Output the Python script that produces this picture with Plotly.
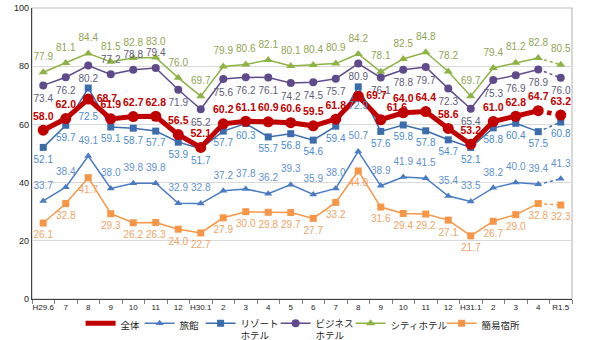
import plotly.graph_objects as go

months = ["H29.6", "7", "8", "9", "10", "11", "12", "H30.1", "2", "3", "4", "5",
          "6", "7", "8", "9", "10", "11", "12", "H31.1", "2", "3", "4", "R1.5"]

zentai = [58.0, 62.0, 68.7, 61.9, 62.7, 62.8, 56.5, 52.1, 60.2, 61.1, 60.9, 60.6,
          59.5, 61.8, 69.7, 61.6, 64.0, 64.4, 58.6, 53.2, 61.0, 62.8, 64.7, 63.2]
ryokan = [33.7, 38.4, 49.1, 38.0, 39.8, 39.8, 32.9, 32.8, 37.2, 37.8, 36.2, 39.3,
          35.9, 38.0, 50.7, 38.9, 41.9, 41.5, 35.4, 33.5, 38.2, 40.0, 39.4, 41.3]
resort = [52.1, 59.7, 72.5, 59.1, 58.7, 57.7, 53.9, 51.7, 57.7, 60.3, 55.7, 56.8,
          54.6, 59.4, 72.9, 57.6, 59.8, 57.8, 54.7, 52.1, 58.8, 60.4, 57.5, 60.8]
business = [73.4, 76.2, 80.2, 77.2, 78.8, 79.4, 71.9, 65.2, 75.6, 76.2, 76.1, 74.2,
            74.5, 75.7, 80.9, 76.1, 78.8, 79.7, 72.3, 65.4, 75.3, 76.9, 78.9, 76.0]
city = [77.9, 81.1, 84.4, 81.5, 82.8, 83.0, 76.0, 69.7, 79.9, 80.6, 82.1, 80.1,
        80.4, 80.9, 84.2, 78.1, 82.5, 84.8, 78.2, 69.7, 79.4, 81.2, 82.8, 80.5]
kani = [26.1, 32.8, 41.7, 29.3, 26.2, 26.3, 24.0, 22.7, 27.9, 30.0, 29.8, 29.7,
        27.7, 33.2, 44.0, 31.6, 29.4, 29.2, 27.1, 21.7, 26.7, 29.0, 32.8, 32.3]

x = list(range(len(months)))
n = len(x)
FONT = "Liberation Sans, Arial, Noto Sans CJK JP, sans-serif"

fig = go.Figure()


def add_series(name, vals, color, width, symbol, msize, tpos, tcolor, toff,
               lw, tsize=10, bold=False, rank=1, legend_line_only=False):
    grp = name
    fig.add_trace(go.Scatter(
        x=x[:-1], y=vals[:-1], mode="lines+markers", name=name,
        line=dict(color=color, width=width),
        marker=dict(symbol=symbol, size=msize, color=color),
        legendgroup=grp, legendrank=rank, legendwidth=lw,
        showlegend=not legend_line_only, hoverinfo="skip"))
    fig.add_trace(go.Scatter(
        x=x[-2:], y=vals[-2:], mode="lines",
        line=dict(color=color, width=max(width - 0.5, 1.5), dash="dot"),
        legendgroup=grp, showlegend=False, hoverinfo="skip"))
    fig.add_trace(go.Scatter(
        x=x[-1:], y=vals[-1:], mode="markers",
        marker=dict(symbol=symbol, size=msize, color=color),
        legendgroup=grp, showlegend=False, hoverinfo="skip"))
    if legend_line_only:
        fig.add_trace(go.Scatter(
            x=[None], y=[None], mode="lines", name=name,
            line=dict(color=color, width=width),
            legendgroup=grp, legendrank=rank, legendwidth=lw, showlegend=True))
    txt = [f"<b>{v:.1f}</b>" if bold else f"{v:.1f}" for v in vals]
    return dict(y=vals, text=txt, tpos=tpos, tcolor=tcolor, tsize=tsize, toff=toff)


labels = []
labels.append(add_series("シティホテル", city, "#8DB345", 1.5, "triangle-up", 8,
                         ["top center"] * n, "#8FA552", [14] * n, 46, rank=5))
bpos = ["bottom center"] * n
for i in (3, 4, 5):
    bpos[i] = "top center"
labels.append(add_series("ビジネス<br>ホテル", business, "#5F4B8B", 1.5, "circle", 8,
                         bpos, "#5E5C78", [13] * n, 30, rank=4))
labels.append(add_series("簡易宿所", kani, "#F79646", 1.5, "square", 7,
                         ["bottom center"] * n, "#F2A366", [11] * n, 36, rank=6))
labels.append(add_series("旅館", ryokan, "#4A7CC4", 1.5, "triangle-up", 7,
                         ["top center"] * n, "#5F92CF", [14] * n, 16, rank=2))
roff = [11] * n
roff[2] = 38
roff[14] = 22
labels.append(add_series("リゾート<br>ホテル", resort, "#3B6DAE", 1.5, "square", 7,
                         ["bottom center"] * n, "#4A8BCB", roff, 30, rank=3))
rpos = ["top center"] * n
rpos[2] = "middle right"
rpos[14] = "middle right"
rpos[15] = "top right"
zoff = [11] * n
zoff[2] = 12
zoff[15] = 8
labels.append(add_series("全体", zentai, "#C00000", 5, "circle", 11,
                         rpos, "#C00000", zoff, 14, tsize=10.5, bold=True, rank=1,
                         legend_line_only=True))

for lb in labels:
    fig.add_trace(go.Scatter(
        x=x, y=lb["y"], mode="markers+text", text=lb["text"],
        textposition=lb["tpos"],
        marker=dict(size=lb["toff"], opacity=0, color="white"),
        textfont=dict(color=lb["tcolor"], size=lb["tsize"], family=FONT),
        showlegend=False, hoverinfo="skip"))

fig.add_shape(type="rect", xref="paper", yref="paper", x0=0, x1=1, y0=0, y1=1,
              line=dict(color="#BFBFBF", width=1.2), layer="below")

fig.update_layout(
    width=589, height=340,
    margin=dict(l=32, r=17, t=8, b=41, autoexpand=False),
    paper_bgcolor="white", plot_bgcolor="white",
    font=dict(family=FONT, size=10, color="#222"),
    showlegend=True,
    legend=dict(orientation="h", x=0.09, y=-0.04, xanchor="left", yanchor="top",
                font=dict(size=9.5, color="#222"), valign="top",
                itemwidth=30, tracegroupgap=0, bgcolor="rgba(0,0,0,0)"),
    xaxis=dict(range=[-0.5, n - 0.5], tickmode="array", tickvals=x, ticktext=months,
               ticks="", showgrid=False, zeroline=False,
               showline=True, linecolor="#404040", linewidth=1.2,
               tickfont=dict(size=8, color="#222"),
               minor=dict(tickmode="linear", tick0=0.5, dtick=1, ticks="outside",
                          ticklen=4, tickcolor="#808080", showgrid=False)),
    yaxis=dict(range=[0, 100], tickvals=[0, 20, 40, 60, 80, 100],
               showgrid=True, gridcolor="#D9D9D9", gridwidth=1, zeroline=False,
               showline=True, linecolor="#404040", linewidth=1.2, ticks="",
               tickfont=dict(size=9, color="#222")),
)

fig.write_html("out.html")
